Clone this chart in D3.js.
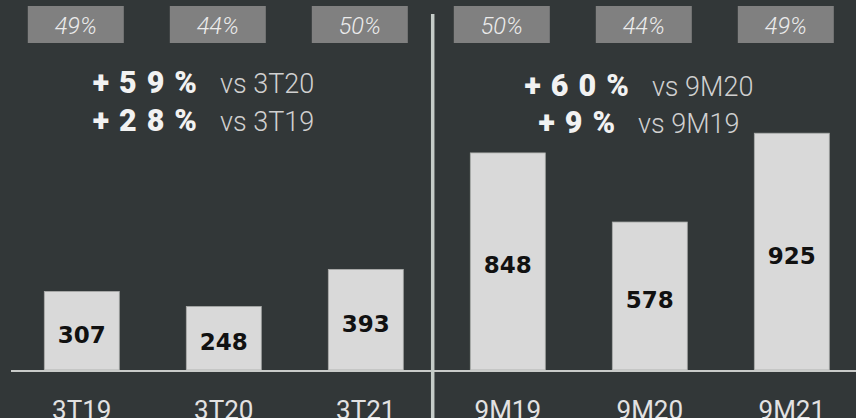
<!DOCTYPE html>
<html>
<head>
<meta charset="utf-8">
<script src="https://cdn.jsdelivr.net/npm/d3@7"></script>
<style>
  html, body { margin: 0; padding: 0; background: #323738; overflow: hidden; }
  svg { display: block; }
</style>
</head>
<body>
<svg id="chart" width="856" height="418"></svg>
<script>
const categories = ["3T19", "3T20", "3T21", "9M19", "9M20", "9M21"];
const values = [307, 248, 393, 848, 578, 925];
const shares = ["49%", "44%", "50%", "50%", "44%", "49%"];
const growthLeft = [["+59%", "vs 3T20"], ["+28%", "vs 3T19"]];
const growthRight = [["+60%", "vs 9M20"], ["+9%", "vs 9M19"]];

const W = 856, H = 418;
const svg = d3.select("#chart");
svg.append("rect").attr("width", W).attr("height", H).attr("fill", "#323738");

const x = d3.scaleBand().domain(categories).range([0, 873.6])
  .paddingInner(0.472).paddingOuter(0.312);
const y = d3.scaleLinear().domain([0, 1000]).range([370, 114]);

// bars
svg.selectAll("rect.bar").data(categories).join("rect")
  .attr("class", "bar")
  .attr("x", d => x(d))
  .attr("y", (d, i) => y(values[i]))
  .attr("width", x.bandwidth())
  .attr("height", (d, i) => y(0) - y(values[i]))
  .attr("fill", "#d9d9d9")
  .attr("stroke", "#a9aba9")
  .attr("stroke-width", 0.8);

// bar value labels
svg.selectAll("text.val").data(categories).join("text")
  .attr("class", "val")
  .attr("x", d => x(d) + x.bandwidth() / 2)
  .attr("y", (d, i) => (y(values[i]) + y(0)) / 2 + 12)
  .attr("text-anchor", "middle")
  .attr("font-family", "'DejaVu Sans', sans-serif")
  .attr("font-weight", "bold")
  .attr("font-size", 23)
  .attr("fill", "#111")
  .text((d, i) => values[i]);

// baseline
svg.append("line").attr("x1", 11).attr("x2", W).attr("y1", y(0) + 1).attr("y2", y(0) + 1)
  .attr("stroke", "#c9cbc9").attr("stroke-width", 2);

// divider
svg.append("line").attr("x1", 432.7).attr("x2", 432.7).attr("y1", 14).attr("y2", H)
  .attr("stroke", "#c5ccc8").attr("stroke-width", 3.5);

// share boxes
const boxW = 96, boxH = 37;
svg.selectAll("rect.box").data(categories).join("rect")
  .attr("class", "box")
  .attr("x", d => x(d) + x.bandwidth() / 2 - 6 - boxW / 2)
  .attr("y", 6)
  .attr("width", boxW).attr("height", boxH)
  .attr("fill", "#808080");
svg.selectAll("text.share").data(categories).join("text")
  .attr("class", "share")
  .attr("x", d => x(d) + x.bandwidth() / 2 - 6)
  .attr("y", 33.5)
  .attr("text-anchor", "middle")
  .attr("font-family", "Roboto, sans-serif")
  .attr("font-weight", 300)
  .attr("font-style", "italic")
  .attr("font-size", 23.5)
  .attr("fill", "#ececec")
  .text((d, i) => shares[i]);

// category labels
svg.selectAll("text.cat").data(categories).join("text")
  .attr("class", "cat")
  .attr("x", d => x(d) + x.bandwidth() / 2)
  .attr("y", 419)
  .attr("text-anchor", "middle")
  .attr("font-family", "Roboto, sans-serif")
  .attr("font-weight", 400)
  .attr("font-size", 26)
  .attr("fill", "#e2e2e2")
  .text(d => d);

// growth annotations
function growth(lines, cx, baselines) {
  lines.forEach((ln, i) => {
    const t = svg.append("text")
      .attr("x", cx).attr("y", baselines[i])
      .attr("text-anchor", "middle")
      .attr("font-family", "Roboto, sans-serif");
    t.append("tspan")
      .attr("font-weight", 900).attr("font-size", 30.5)
      .attr("letter-spacing", 10)
      .attr("fill", "#f2f2f2")
      .text(ln[0]);
    t.append("tspan")
      .attr("dx", 13)
      .attr("font-weight", 300).attr("font-size", 27)
      .attr("fill", "#d0d0d0")
      .text(ln[1]);
  });
}
growth(growthLeft, 203.5, [92.7, 130.7]);
growth(growthRight, 639, [95.5, 132.5]);
</script>
</body>
</html>
